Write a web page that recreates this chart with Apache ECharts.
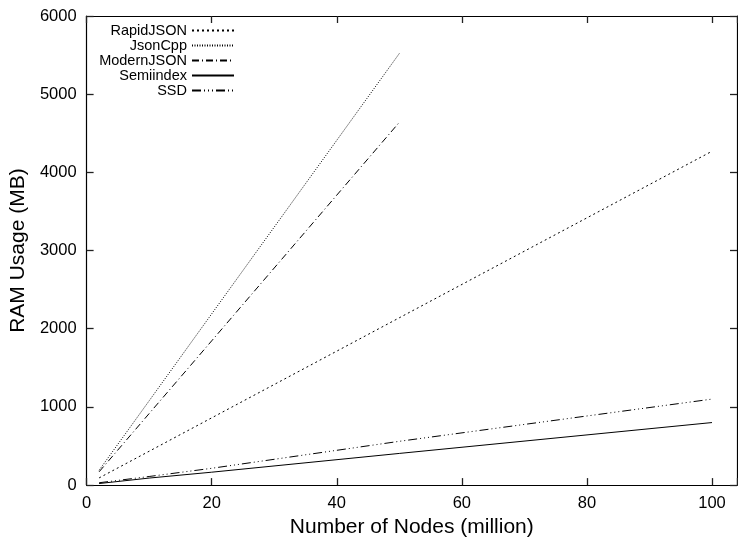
<!DOCTYPE html>
<html>
<head>
<meta charset="utf-8">
<script src="https://cdn.jsdelivr.net/npm/echarts@6/dist/echarts.min.js"></script>
<style>html,body{margin:0;padding:0;background:#fff;}#c{width:738px;height:543px;}</style>
</head>
<body>
<div id="c"></div>
<script>
var nodesShort = [2, 10, 20, 50];
var nodesLong = [2, 10, 20, 50, 100];
var rapidJSON = [92, 433, 860, 2140, 4270];
var jsonCpp = [190, 1078, 2190, 5520];
var modernJSON = [170, 915, 1845, 4640];
var semiindex = [20, 90, 165, 405, 800];
var ssd = [30, 110, 215, 560, 1100];
var xTicks = [0, 20, 40, 60, 80, 100];
var yTicks = [0, 1000, 2000, 3000, 4000, 5000, 6000];

function pairs(xs, ys) { return ys.map(function (v, i) { return [xs[i], v]; }); }

var font = 'Liberation Sans, Arial, sans-serif';
var chart = echarts.init(document.getElementById('c'));
function mk(name, xs, ys, dash) {
  return {
    name: name, type: 'line', data: pairs(xs, ys), symbol: 'none',
    xAxisIndex: 0, yAxisIndex: 0,
    lineStyle: { color: '#000', width: 1, type: dash },
    itemStyle: { color: '#000' }
  };
}
function tick() { return { show: true, inside: true, length: 7, lineStyle: { color: '#222', width: 1.3 } }; }
function xAx(pos, showLabel) {
  return {
    type: 'value', min: 0, max: 104, interval: 20, position: pos,
    axisLine: { show: true, onZero: false, lineStyle: { color: '#000', width: 1.2 } },
    axisTick: tick(),
    axisLabel: showLabel ? { customValues: xTicks, fontFamily: font, fontSize: 16.5, color: '#000', margin: 10 } : { show: false },
    splitLine: { show: false }
  };
}
function yAx(pos, showLabel) {
  return {
    type: 'value', min: 0, max: 6000, interval: 1000, position: pos,
    axisLine: { show: true, onZero: false, lineStyle: { color: '#000', width: 1.2 } },
    axisTick: tick(),
    axisLabel: showLabel ? { customValues: yTicks, fontFamily: font, fontSize: 16.5, color: '#000', margin: 10, formatter: function (v) { return String(v); } } : { show: false },
    splitLine: { show: false }
  };
}
var xb = xAx('bottom', true);
xb.name = 'Number of Nodes (million)'; xb.nameLocation = 'middle'; xb.nameGap = 29;
xb.nameTextStyle = { fontFamily: font, fontSize: 21, color: '#000' };
var yl = yAx('left', true);
yl.name = 'RAM Usage (MB)'; yl.nameLocation = 'middle'; yl.nameGap = 54;
yl.nameTextStyle = { fontFamily: font, fontSize: 21, color: '#000' };

chart.setOption({
  animation: false,
  backgroundColor: '#fff',
  grid: { left: 86, right: 1, top: 16, bottom: 53 },
  legend: {
    orient: 'vertical', right: 503, top: 23, align: 'right', padding: 0,
    itemWidth: 42, itemHeight: 12, itemGap: 0,
    itemStyle: { opacity: 0 },
    textStyle: { fontFamily: font, fontSize: 14.5, color: '#000', lineHeight: 13 },
    data: ['RapidJSON', 'JsonCpp', 'ModernJSON', 'Semiindex', 'SSD']
  },
  xAxis: [xb, xAx('top', false)],
  yAxis: [yl, yAx('right', false)],
  series: [
    mk('RapidJSON', nodesLong, rapidJSON, [2, 3]),
    mk('JsonCpp', nodesShort, jsonCpp, [1, 1.5]),
    mk('ModernJSON', nodesShort, modernJSON, [7, 3, 1, 3]),
    mk('Semiindex', nodesLong, semiindex, 'solid'),
    mk('SSD', nodesLong, ssd, [9, 3, 1, 3, 1, 3, 1, 3])
  ]
});
</script>
</body>
</html>
